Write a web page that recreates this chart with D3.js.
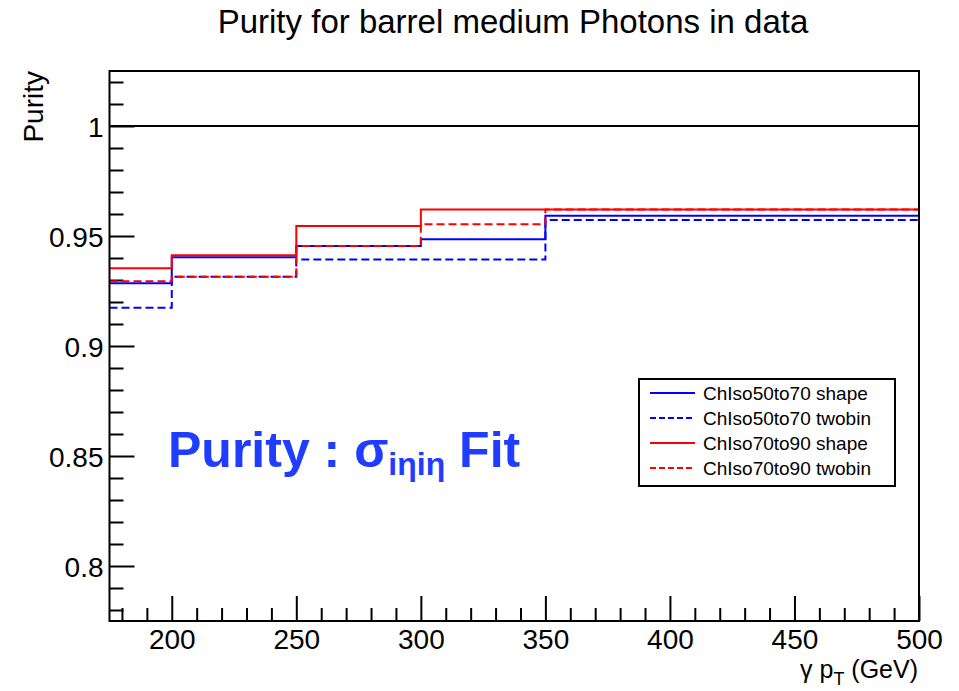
<!DOCTYPE html>
<html>
<head>
<meta charset="utf-8">
<script src="https://cdn.jsdelivr.net/npm/d3@7"></script>
<style>
  html, body { margin: 0; padding: 0; background: #fff; }
  svg { display: block; }
  text { font-family: "Liberation Sans", Arial, Helvetica, sans-serif; }
</style>
</head>
<body>
<svg id="chart" width="959" height="691"></svg>
<script>
// ---- data ----
const binEdges = [175, 200, 250, 300, 350, 500];
const chiso5070Shape  = [0.9285, 0.9403, 0.9455, 0.9485, 0.9592];
const chiso5070Twobin = [0.9174, 0.9315, 0.9393, 0.9393, 0.9573];
const chiso7090Shape  = [0.9353, 0.9412, 0.9545, 0.9621, 0.9621];
const chiso7090Twobin = [0.9294, 0.9315, 0.9455, 0.9553, 0.9621];
const seriesNames = ["ChIso50to70 shape", "ChIso50to70 twobin", "ChIso70to90 shape", "ChIso70to90 twobin"];
const seriesColors = ["#0000ff", "#0000ff", "#ff0000", "#ff0000"];
const seriesDashed = [false, true, false, true];
const xTickValues = [200, 250, 300, 350, 400, 450, 500];
const yTickValues = [0.8, 0.85, 0.9, 0.95, 1];
const xDomain = [175, 500];
const yDomain = [0.775, 1.025];
const refLine = 1;

const svg = d3.select("#chart");
const L = 109.5, R = 919, T = 71, B = 621;
const x = d3.scaleLinear().domain(xDomain).range([L, R]);
const y = d3.scaleLinear().domain(yDomain).range([B, T]);

// title
svg.append("text").attr("x", 513).attr("y", 33).attr("text-anchor", "middle")
  .attr("font-size", 33).attr("fill", "#000")
  .text("Purity for barrel medium Photons in data");

// minor ticks
const xMinor = d3.range(180, 500, 10).filter(v => v % 50 !== 0);
svg.append("g").attr("transform", `translate(0,${B})`)
  .call(d3.axisBottom(x).tickValues(xMinor).tickSize(-13).tickFormat(""))
  .call(g => g.select(".domain").remove())
  .call(g => g.selectAll("line").attr("stroke", "#000").attr("stroke-width", 2));
const yMinorVals = d3.range(78, 103).map(v => v / 100).filter(v => Math.round(v * 100) % 5 !== 0);
svg.append("g").attr("transform", `translate(${L},0)`)
  .call(d3.axisLeft(y).tickValues(yMinorVals).tickSize(-14).tickFormat(""))
  .call(g => g.select(".domain").remove())
  .call(g => g.selectAll("line").attr("stroke", "#000").attr("stroke-width", 2));

// major ticks
svg.append("g").attr("transform", `translate(0,${B})`)
  .call(d3.axisBottom(x).tickValues(xTickValues).tickSize(-25).tickPadding(0).tickFormat(d3.format("d")))
  .call(g => g.select(".domain").remove())
  .call(g => g.selectAll("line").attr("stroke", "#000").attr("stroke-width", 2))
  .call(g => g.selectAll("text").attr("y", 28).attr("dy", 0).attr("font-size", 28)
      .attr("fill", "#000").attr("font-family", "Liberation Sans, Arial, sans-serif"));
svg.append("g").attr("transform", `translate(${L},0)`)
  .call(d3.axisLeft(y).tickValues(yTickValues).tickSize(-25).tickPadding(6).tickFormat(d => String(d)))
  .call(g => g.select(".domain").remove())
  .call(g => g.selectAll("line").attr("stroke", "#000").attr("stroke-width", 2))
  .call(g => g.selectAll("text").attr("font-size", 28).attr("dy", "0.36em")
      .attr("fill", "#000").attr("font-family", "Liberation Sans, Arial, sans-serif"));

// reference line at 1
svg.append("line").attr("x1", L).attr("x2", R).attr("y1", y(refLine)).attr("y2", y(refLine))
  .attr("stroke", "#000").attr("stroke-width", 2);

// histograms
const allSeries = [chiso5070Shape, chiso5070Twobin, chiso7090Shape, chiso7090Twobin];
function stepPts(vals) {
  const pts = [];
  vals.forEach((v, i) => { pts.push([binEdges[i], v]); pts.push([binEdges[i + 1], v]); });
  return pts;
}
const line = d3.line().x(d => x(d[0])).y(d => y(d[1]));
allSeries.forEach((vals, i) => {
  svg.append("path").attr("d", line(stepPts(vals)))
    .attr("fill", "none").attr("stroke", seriesColors[i]).attr("stroke-width", 2)
    .attr("stroke-dasharray", seriesDashed[i] ? "8,4" : null);
});

// frame
svg.append("rect").attr("x", L).attr("y", T).attr("width", R - L).attr("height", B - T)
  .attr("fill", "none").attr("stroke", "#000").attr("stroke-width", 2);

// axis titles
svg.append("text").attr("transform", `translate(43,${T}) rotate(-90)`)
  .attr("text-anchor", "end").attr("font-size", 28).attr("fill", "#000").text("Purity");
const xt = svg.append("text").attr("x", 918).attr("y", 678).attr("text-anchor", "end")
  .attr("font-size", 25).attr("fill", "#000");
xt.append("tspan").text("γ p");
xt.append("tspan").attr("dy", 7).attr("font-size", 18).text("T");
xt.append("tspan").attr("dy", -7).text(" (GeV)");

// annotation
const ann = svg.append("text").attr("x", 168).attr("y", 467)
  .attr("font-size", 50).attr("font-weight", "bold").attr("fill", "#1f3cff");
ann.append("tspan").text("Purity : σ");
ann.append("tspan").attr("dy", 8).attr("font-size", 32).text("iηiη");
ann.append("tspan").attr("dy", -8).text(" Fit");

// legend
const lg = svg.append("g");
lg.append("rect").attr("x", 639).attr("y", 379).attr("width", 256).attr("height", 107)
  .attr("fill", "#fff").attr("stroke", "#000").attr("stroke-width", 2);
seriesNames.forEach((name, i) => {
  const cy = 393 + i * 25;
  lg.append("line").attr("x1", 650).attr("x2", 695).attr("y1", cy).attr("y2", cy)
    .attr("stroke", seriesColors[i]).attr("stroke-width", 2)
    .attr("stroke-dasharray", seriesDashed[i] ? "6,3" : null);
  lg.append("text").attr("x", 703).attr("y", cy + 7).attr("font-size", 19)
    .attr("fill", "#000").text(name);
});
</script>
</body>
</html>
